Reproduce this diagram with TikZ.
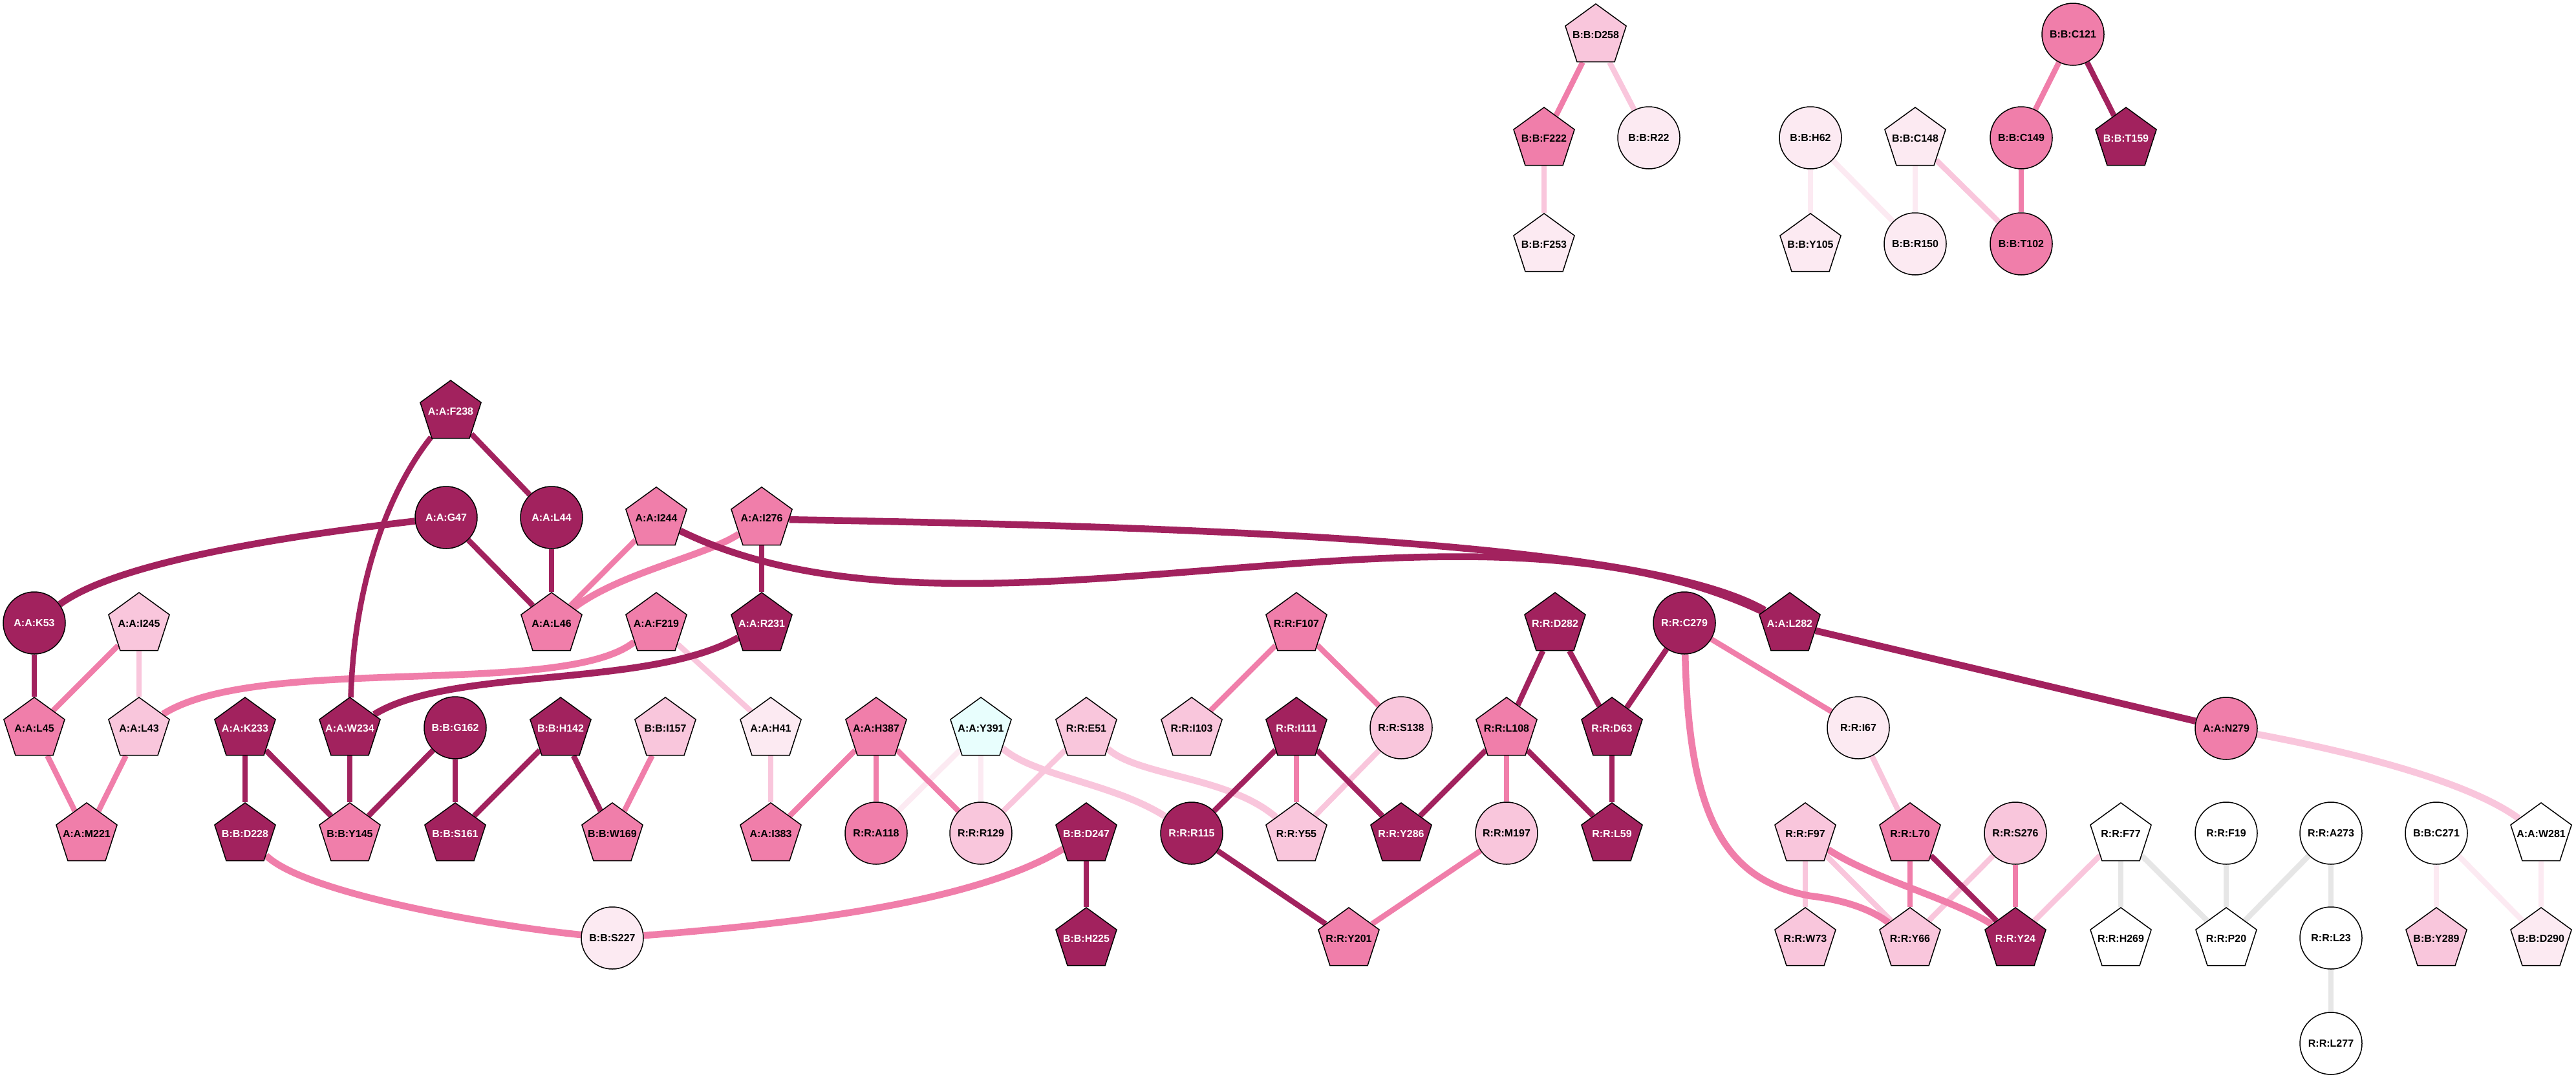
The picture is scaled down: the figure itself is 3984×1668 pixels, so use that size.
\documentclass[tikz,border=0pt]{standalone}
\usepackage{fontspec}
\setmainfont{Liberation Sans}
\usetikzlibrary{shapes.geometric}
\pgfdeclarelayer{edgelayer}
\pgfsetlayers{edgelayer,main}
\definecolor{cdark}{RGB}{162,34,94}
\definecolor{cmed}{RGB}{240,126,170}
\definecolor{clight}{RGB}{249,198,220}
\definecolor{cvlight}{RGB}{252,234,242}
\definecolor{ccyan}{RGB}{232,254,253}
\definecolor{cgray}{RGB}{230,230,230}
\newcommand{\ztxt}[1]{\makebox[0pt]{\raisebox{2.5pt}{#1}}}
\tikzset{
  res/.style={draw=black, line width=1.5pt, inner sep=0pt, font=\fontsize{16}{16}\selectfont\bfseries},
  pent/.style={res, regular polygon, regular polygon sides=5, minimum size=99pt, yshift=-2.5pt},
  circ/.style={res, circle, minimum size=96pt},
  fdk/.style={fill=cdark, text=white},
  fmd/.style={fill=cmed},
  flt/.style={fill=clight},
  fvl/.style={fill=cvlight},
  fcy/.style={fill=ccyan},
  fwh/.style={fill=white},
  ed/.style={line width=8.5pt},
  ec/.style={line width=10.5pt},
  dk/.style={draw=cdark},
  md/.style={draw=cmed},
  lt/.style={draw=clight},
  vl/.style={draw=cvlight},
  gy/.style={draw=cgray}
}
\begin{document}
\begin{tikzpicture}[x=1pt,y=-1pt]
\useasboundingbox (0,0) rectangle (3984,1668);
% ---- top cluster
\node[pent,flt] (BD258) at (2468,53) {\ztxt{B:B:D258}};
\node[pent,fmd] (BF222) at (2388,213) {\ztxt{B:B:F222}};
\node[circ,fvl] (BR22) at (2550,213) {B:B:R22};
\node[pent,fvl] (BF253) at (2388,377) {\ztxt{B:B:F253}};
\node[circ,fvl] (BH62) at (2800,213) {B:B:H62};
\node[pent,fvl] (BC148) at (2962,213) {\ztxt{B:B:C148}};
\node[pent,fvl] (BY105) at (2800,377) {\ztxt{B:B:Y105}};
\node[circ,fvl] (BR150) at (2962,377) {B:B:R150};
\node[circ,fmd] (BC121) at (3206,53) {B:B:C121};
\node[circ,fmd] (BC149) at (3126,213) {B:B:C149};
\node[pent,fdk] (BT159) at (3288,213) {\ztxt{B:B:T159}};
\node[circ,fmd] (BT102) at (3126,377) {B:B:T102};
% ---- main cluster
\node[pent,fdk] (AF238) at (697,635) {\ztxt{A:A:F238}};
\node[circ,fdk] (AG47) at (690,800) {A:A:G47};
\node[circ,fdk] (AL44) at (853,800) {A:A:L44};
\node[pent,fmd] (AI244) at (1015,800) {\ztxt{A:A:I244}};
\node[pent,fmd] (AI276) at (1178,800) {\ztxt{A:A:I276}};
\node[circ,fdk] (AK53) at (53,963) {A:A:K53};
\node[pent,flt] (AI245) at (215,963) {\ztxt{A:A:I245}};
\node[pent,fmd] (AL46) at (853,963) {\ztxt{A:A:L46}};
\node[pent,fmd] (AF219) at (1015,963) {\ztxt{A:A:F219}};
\node[pent,fdk] (AR231) at (1178,963) {\ztxt{A:A:R231}};
\node[pent,fmd] (RF107) at (2005,963) {\ztxt{R:R:F107}};
\node[pent,fdk] (RD282) at (2405,963) {\ztxt{R:R:D282}};
\node[circ,fdk] (RC279) at (2605,963) {R:R:C279};
\node[pent,fdk] (AL282) at (2768,963) {\ztxt{A:A:L282}};
\node[pent,fmd] (AL45) at (53,1125) {\ztxt{A:A:L45}};
\node[pent,flt] (AL43) at (215,1125) {\ztxt{A:A:L43}};
\node[pent,fdk] (AK233) at (379,1125) {\ztxt{A:A:K233}};
\node[pent,fdk] (AW234) at (541,1125) {\ztxt{A:A:W234}};
\node[circ,fdk] (BG162) at (704,1125) {B:B:G162};
\node[pent,fdk] (BH142) at (867,1125) {\ztxt{B:B:H142}};
\node[pent,flt] (BI157) at (1029,1125) {\ztxt{B:B:I157}};
\node[pent,fvl] (AH41) at (1192,1125) {\ztxt{A:A:H41}};
\node[pent,fmd] (AH387) at (1355,1125) {\ztxt{A:A:H387}};
\node[pent,fcy] (AY391) at (1517,1125) {\ztxt{A:A:Y391}};
\node[pent,flt] (RE51) at (1680,1125) {\ztxt{R:R:E51}};
\node[pent,flt] (RI103) at (1843,1125) {\ztxt{R:R:I103}};
\node[pent,fdk] (RI111) at (2005,1125) {\ztxt{R:R:I111}};
\node[circ,flt] (RS138) at (2167,1125) {R:R:S138};
\node[pent,fmd] (RL108) at (2330,1125) {\ztxt{R:R:L108}};
\node[pent,fdk] (RD63) at (2493,1125) {\ztxt{R:R:D63}};
\node[circ,fvl] (RI67) at (2874,1125) {R:R:I67};
\node[circ,fmd] (AN279) at (3443,1126) {A:A:N279};
\node[pent,fmd] (AM221) at (134,1288) {\ztxt{A:A:M221}};
\node[pent,fdk] (BD228) at (379,1288) {\ztxt{B:B:D228}};
\node[pent,fmd] (BY145) at (541,1288) {\ztxt{B:B:Y145}};
\node[pent,fdk] (BS161) at (704,1288) {\ztxt{B:B:S161}};
\node[pent,fmd] (BW169) at (947,1288) {\ztxt{B:B:W169}};
\node[pent,fmd] (AI383) at (1192,1288) {\ztxt{A:A:I383}};
\node[circ,fmd] (RA118) at (1355,1288) {R:R:A118};
\node[circ,flt] (RR129) at (1517,1288) {R:R:R129};
\node[pent,fdk] (BD247) at (1680,1288) {\ztxt{B:B:D247}};
\node[circ,fdk] (RR115) at (1843,1288) {R:R:R115};
\node[pent,flt] (RY55) at (2005,1288) {\ztxt{R:R:Y55}};
\node[pent,fdk] (RY286) at (2167,1288) {\ztxt{R:R:Y286}};
\node[circ,flt] (RM197) at (2330,1288) {R:R:M197};
\node[pent,fdk] (RL59) at (2493,1288) {\ztxt{R:R:L59}};
\node[pent,flt] (RF97) at (2792,1288) {\ztxt{R:R:F97}};
\node[pent,fmd] (RL70) at (2954,1288) {\ztxt{R:R:L70}};
\node[circ,flt] (RS276) at (3117,1288) {R:R:S276};
\node[pent,fwh] (RF77) at (3280,1288) {\ztxt{R:R:F77}};
\node[circ,fwh] (RF19) at (3443,1288) {R:R:F19};
\node[circ,fwh] (RA273) at (3605,1288) {R:R:A273};
\node[circ,fwh] (BC271) at (3768,1288) {B:B:C271};
\node[pent,fwh] (AW281) at (3930,1288) {\ztxt{A:A:W281}};
\node[circ,fvl] (BS227) at (947,1450) {B:B:S227};
\node[pent,fdk] (BH225) at (1680,1450) {\ztxt{B:B:H225}};
\node[pent,fmd] (RY201) at (2086,1450) {\ztxt{R:R:Y201}};
\node[pent,flt] (RW73) at (2792,1450) {\ztxt{R:R:W73}};
\node[pent,flt] (RY66) at (2954,1450) {\ztxt{R:R:Y66}};
\node[pent,fdk] (RY24) at (3117,1450) {\ztxt{R:R:Y24}};
\node[pent,fwh] (RH269) at (3280,1450) {\ztxt{R:R:H269}};
\node[pent,fwh] (RP20) at (3443,1450) {\ztxt{R:R:P20}};
\node[circ,fwh] (RL23) at (3605,1450) {R:R:L23};
\node[pent,flt] (BY289) at (3768,1450) {\ztxt{B:B:Y289}};
\node[pent,fvl] (BD290) at (3930,1450) {\ztxt{B:B:D290}};
\node[circ,fwh] (RL277) at (3605,1613) {R:R:L277};
\begin{pgfonlayer}{edgelayer}
% top cluster
\draw[ed,md] (BD258) -- (BF222);
\draw[ed,lt] (BD258) -- (BR22);
\draw[ed,lt] (BF222) -- (BF253);
\draw[ed,vl] (BH62) -- (BY105);
\draw[ed,vl] (BH62) -- (BR150);
\draw[ed,vl] (BC148) -- (BR150);
\draw[ed,lt] (BC148) -- (BT102);
\draw[ed,md] (BC121) -- (BC149);
\draw[ed,dk] (BC121) -- (BT159);
\draw[ed,md] (BC149) -- (BT102);
% gray and very light
\draw[ed,gy] (RF77) -- (RH269);
\draw[ed,gy] (RF77) -- (RP20);
\draw[ed,gy] (RF19) -- (RP20);
\draw[ed,gy] (RA273) -- (RP20);
\draw[ed,gy] (RA273) -- (RL23);
\draw[ed,gy] (RL23) -- (RL277);
\draw[ed,vl] (BC271) -- (BY289);
\draw[ed,vl] (BC271) -- (BD290);
\draw[ed,vl] (AW281) -- (BD290);
\draw[ed,vl] (AY391) -- (RA118);
\draw[ed,vl] (AY391) -- (RR129);
% light
\draw[ed,lt] (AI245) -- (AL43);
\draw[ed,lt] (AF219) -- (AH41);
\draw[ed,lt] (AH41) -- (AI383);
\draw[ed,lt] (RE51) -- (RR129);
\draw[ed,lt] (RS138) -- (RY55);
\draw[ed,lt] (RI67) -- (RL70);
\draw[ed,lt] (RF97) -- (RW73);
\draw[ed,lt] (RF97) -- (RY66);
\draw[ed,lt] (RS276) -- (RY66);
\draw[ed,lt] (RF77) -- (RY24);
\draw[ec,lt] (AY391) .. controls (1600,1200) and (1720,1210) .. (RR115);
\draw[ec,lt] (RE51) .. controls (1760,1200) and (1900,1200) .. (RY55);
\draw[ec,lt] (AN279) .. controls (3650,1165) and (3820,1210) .. (AW281);
% medium
\draw[ed,md] (AI244) -- (AL46);
\draw[ed,md] (AI245) -- (AL45);
\draw[ed,md] (AL45) -- (AM221);
\draw[ed,md] (AL43) -- (AM221);
\draw[ed,md] (BI157) -- (BW169);
\draw[ed,md] (AH387) -- (AI383);
\draw[ed,md] (AH387) -- (RA118);
\draw[ed,md] (AH387) -- (RR129);
\draw[ed,md] (RI111) -- (RY55);
\draw[ed,md] (RF107) -- (RI103);
\draw[ed,md] (RF107) -- (RS138);
\draw[ed,md] (RL108) -- (RM197);
\draw[ed,md] (RM197) -- (RY201);
\draw[ed,md] (RC279) -- (RI67);
\draw[ed,md] (RL70) -- (RY66);
\draw[ed,md] (RS276) -- (RY24);
\draw[ec,md] (AI276) .. controls (1090,860) and (960,885) .. (AL46);
\draw[ec,md] (AF219) .. controls (870,1080) and (400,1010) .. (AL43);
\draw[ec,md] (BD228) .. controls (470,1380) and (750,1430) .. (BS227);
\draw[ec,md] (BS227) .. controls (1200,1430) and (1500,1400) .. (BD247);
\draw[ec,md] (RC279) .. controls (2612,1250) and (2660,1360) .. (2800,1385) .. controls (2860,1392) and (2900,1410) .. (RY66);
\draw[ec,md] (RF97) .. controls (2900,1360) and (3020,1390) .. (RY24);
% dark
\draw[ed,dk] (AF238) -- (AL44);
\draw[ed,dk] (AG47) -- (AL46);
\draw[ed,dk] (AL44) -- (AL46);
\draw[ed,dk] (AI276) -- (AR231);
\draw[ed,dk] (AK53) -- (AL45);
\draw[ed,dk] (AK233) -- (BD228);
\draw[ed,dk] (AK233) -- (BY145);
\draw[ed,dk] (AW234) -- (BY145);
\draw[ed,dk] (BG162) -- (BY145);
\draw[ed,dk] (BG162) -- (BS161);
\draw[ed,dk] (BH142) -- (BS161);
\draw[ed,dk] (BH142) -- (BW169);
\draw[ed,dk] (BD247) -- (BH225);
\draw[ed,dk] (RI111) -- (RR115);
\draw[ed,dk] (RI111) -- (RY286);
\draw[ed,dk] (RL108) -- (RY286);
\draw[ed,dk] (RL108) -- (RL59);
\draw[ed,dk] (RD282) -- (RL108);
\draw[ed,dk] (RD282) -- (RD63);
\draw[ed,dk] (RC279) -- (RD63);
\draw[ed,dk] (RD63) -- (RL59);
\draw[ed,dk] (RR115) -- (RY201);
\draw[ed,dk] (RL70) -- (RY24);
\draw[ec,dk] (AL282) -- (AN279);
\draw[ed,dk] (AF238) .. controls (600,760) and (548,900) .. (AW234);
\draw[ec,dk] (AG47) .. controls (430,830) and (180,870) .. (AK53);
\draw[ec,dk] (AR231) .. controls (1000,1065) and (700,1030) .. (AW234);
\draw[ec,dk] (AI244) .. controls (1500,1040) and (2250,720) .. (AL282);
\draw[ec,dk] (AI276) .. controls (1900,815) and (2550,840) .. (AL282);
\end{pgfonlayer}
\end{tikzpicture}
\end{document}
